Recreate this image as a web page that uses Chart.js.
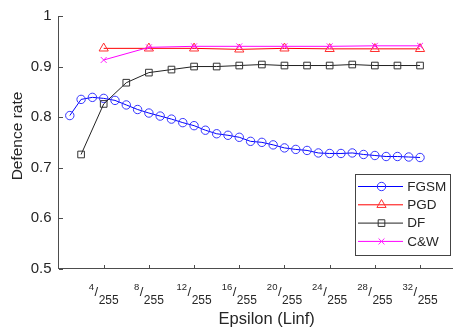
<!DOCTYPE html>
<html>
<head>
<meta charset="utf-8">
<script src="https://cdn.jsdelivr.net/npm/chart.js@4/dist/chart.umd.min.js"></script>
<style>
html,body{margin:0;padding:0;background:#fff;overflow:hidden}
canvas{display:block}
</style>
</head>
<body>
<canvas id="chart" width="459" height="330"></canvas>
<script>
// Data (epsilon in units of 1/255)
const fgsmEps=[1,2,3,4,5,6,7,8,9,10,11,12,13,14,15,16,17,18,19,20,21,22,23,24,25,26,27,28,29,30,31,32];
const fgsmRate=[0.803,0.835,0.839,0.837,0.833,0.824,0.815,0.808,0.802,0.796,0.789,0.783,0.774,0.767,0.764,0.760,
  0.752,0.750,0.745,0.739,0.736,0.734,0.729,0.728,0.728,0.729,0.726,0.724,0.722,0.722,0.721,0.720];
const pgdEps=[4,8,12,16,20,24,28,32];
const pgdRate=[0.936,0.936,0.936,0.934,0.936,0.935,0.935,0.935];
const dfEps=[2,4,6,8,10,12,14,16,18,20,22,24,26,28,30,32];
const dfRate=[0.726,0.826,0.868,0.888,0.894,0.900,0.900,0.902,0.904,0.902,0.902,0.902,0.904,0.902,0.902,0.902];
const cwEps=[4,8,12,16,20,24,28,32];
const cwRate=[0.913,0.938,0.940,0.940,0.940,0.940,0.941,0.941];

const xTicks=[4,8,12,16,20,24,28,32];
const xTickDen='255';
const yTicks=[0.5,0.6,0.7,0.8,0.9,1];

const axisColor='#4d4d4d';
const textColor='#262626';
const FONT='"Liberation Sans", Arial, sans-serif';
Chart.defaults.font.family=FONT;

const pts=(xs,ys)=>xs.map((v,i)=>({x:v,y:ys[i]}));

// MATLAB-like extras: inward ticks, x/255 tick labels, axis titles, boxed legend
const extras={
  id:'extras',
  afterDraw(chart){
    const {ctx,chartArea:a,scales:{x,y}}=chart;
    ctx.save();
    ctx.strokeStyle=axisColor; ctx.lineWidth=1;
    ctx.beginPath();
    xTicks.forEach(v=>{
      const px=Math.round(x.getPixelForValue(v))+0.5;
      ctx.moveTo(px,Math.round(a.bottom)); ctx.lineTo(px,Math.round(a.bottom)-4);
    });
    yTicks.forEach(v=>{
      const py=Math.round(y.getPixelForValue(v))+0.5;
      ctx.moveTo(Math.round(a.left),py); ctx.lineTo(Math.round(a.left)+4,py);
    });
    ctx.stroke();

    // tick labels like  4/255
    ctx.fillStyle=textColor; ctx.textBaseline='alphabetic'; ctx.textAlign='left';
    xTicks.forEach(v=>{
      const px=x.getPixelForValue(v);
      const num=String(v);
      ctx.font='9.5px '+FONT; const wn=ctx.measureText(num).width;
      ctx.font='13px '+FONT; const ws=ctx.measureText('/').width;
      ctx.font='12px '+FONT; const wd=ctx.measureText(xTickDen).width;
      let sx=px-(wn+ws+wd+1)/2;
      ctx.font='9.5px '+FONT; ctx.fillText(num,sx,289.5); sx+=wn+0.5;
      ctx.font='13px '+FONT; ctx.fillText('/',sx,296); sx+=ws+0.5;
      ctx.font='12px '+FONT; ctx.fillText(xTickDen,sx,303.5);
    });

    // axis titles
    ctx.font='16.5px '+FONT; ctx.textAlign='center';
    ctx.fillText('Epsilon (Linf)',266.7,323.5);
    ctx.save();
    ctx.translate(21.7,136); ctx.rotate(-Math.PI/2);
    ctx.font='15.5px '+FONT;
    ctx.fillText('Defence rate',0,0);
    ctx.restore();

    // legend
    const lg={x:355,y:174,w:95,h:81};
    ctx.fillStyle='#fff'; ctx.fillRect(lg.x,lg.y,lg.w,lg.h);
    ctx.strokeStyle='#444'; ctx.strokeRect(lg.x+0.5,lg.y+0.5,lg.w,lg.h);
    chart.data.datasets.forEach((ds,i)=>{
      const cy=lg.y+12.5+i*18.3;
      ctx.strokeStyle=ds.borderColor; ctx.lineWidth=1;
      ctx.beginPath(); ctx.moveTo(lg.x+3,cy); ctx.lineTo(lg.x+48,cy); ctx.stroke();
      ctx.strokeStyle=ds.pointBorderColor; ctx.fillStyle='rgba(0,0,0,0)';
      Chart.helpers.drawPoint(ctx,{pointStyle:ds.pointStyle,radius:ds.pointRadius,borderWidth:1,rotation:0},lg.x+26.5,cy);
      ctx.fillStyle=textColor; ctx.font='13.5px '+FONT; ctx.textAlign='left'; ctx.textBaseline='middle';
      ctx.fillText(ds.label,lg.x+52.3,cy+0.5);
    });
    ctx.restore();
  }
};

const mk=(label,data,line,marker,style,r,order)=>({
  label,data,order,
  borderColor:line,borderWidth:1,
  pointStyle:style,pointRadius:r,pointHoverRadius:r,
  pointBorderColor:marker,pointBackgroundColor:'rgba(0,0,0,0)',pointBorderWidth:1,
  tension:0,fill:false
});

new Chart(document.getElementById('chart'),{
  type:'line',
  data:{datasets:[
    mk('FGSM',pts(fgsmEps,fgsmRate),'#0000ff','#3535ff','circle',4.2,4),
    mk('PGD',pts(pgdEps,pgdRate),'#ff0000','#ff3030','triangle',5.3,3),
    mk('DF',pts(dfEps,dfRate),'#222222','#333333','rect',4.7,2),
    mk('C&W',pts(cwEps,cwRate),'#ff00ff','#ff20ff','crossRot',4.2,1)
  ]},
  options:{
    responsive:false,animation:false,
    layout:{padding:{top:10.3,right:0,bottom:0,left:0}},
    plugins:{legend:{display:false},tooltip:{enabled:false}},
    scales:{
      x:{type:'linear',min:0,max:34.89,
        grid:{display:false,drawTicks:false},
        border:{display:true,color:axisColor,width:1},
        ticks:{display:false},
        afterFit:s=>{s.height=61.3;}
      },
      y:{type:'linear',min:0.5,max:1,
        grid:{display:false,drawTicks:false},
        border:{display:true,color:axisColor,width:1},
        afterBuildTicks:s=>{s.ticks=yTicks.map(v=>({value:v}));},
        ticks:{color:textColor,font:{size:15},padding:7,callback:v=>String(v)},
        afterFit:s=>{s.width=58.5;}
      }
    }
  },
  plugins:[extras]
});
</script>
</body>
</html>
